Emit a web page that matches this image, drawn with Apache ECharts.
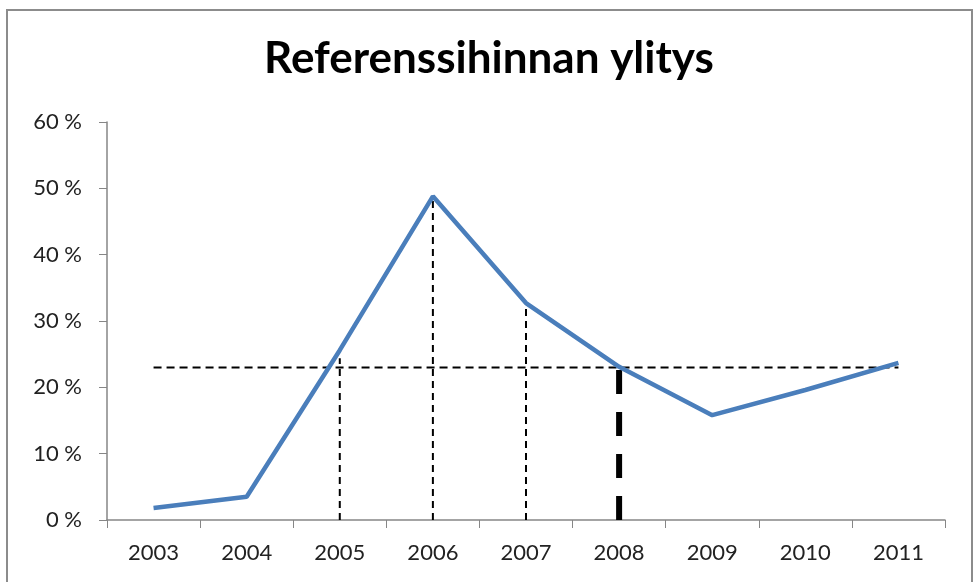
<!DOCTYPE html>
<html>
<head>
<meta charset="utf-8">
<script src="https://cdn.jsdelivr.net/npm/echarts@6/dist/echarts.min.js"></script>
<style>html,body{margin:0;padding:0;background:#fff}#c{width:978px;height:582px}</style>
</head>
<body>
<div id="c"></div>
<script>
const titleText = 'Referenssihinnan ylitys';
const years = ['2003','2004','2005','2006','2007','2008','2009','2010','2011'];
const values = [1.8, 3.5, 25.6, 48.8, 32.7, 23.1, 15.8, 19.6, 23.7];
const refLevel = 23;
const refStart = '2003';
const refEnd = '2011';
const guideYears = ['2005','2006','2007'];
const guideTops = [24.4, 48.8, 32.7];
const markYear = '2008';
const markTop = 23;
const yTicks = [0, 10, 20, 30, 40, 50, 60];

const chart = echarts.init(document.getElementById('c'), null, {renderer:'canvas'});
const font = 'Lato, "Open Sans", sans-serif';
const series = [];
series.push({
  type:'line', data:[[refStart, refLevel],[refEnd, refLevel]], symbol:'none', silent:true,
  lineStyle:{color:'#000', width:2, type:[8,5]}, z:2
});
guideYears.forEach((y,i)=>{
  series.push({
    type:'line', data:[[y,0],[y,guideTops[i]]], symbol:'none', silent:true,
    lineStyle:{color:'#000', width:2, type:[7,5]}, z:2
  });
});
series.push({
  type:'line', data:[[markYear,0],[markYear,markTop]], symbol:'none', silent:true,
  lineStyle:{color:'#000', width:6, type:[24,18]}, z:2
});
series.push({
  type:'line', data:values, symbol:'none', lineStyle:{color:'#4a7ebb', width:4.5}, z:5
});

chart.setOption({
  animation:false,
  title:{text:titleText, left:'center', top:32, textStyle:{fontFamily:font, fontWeight:'bold', fontSize:44, color:'#000'}},
  graphic:[{type:'rect', shape:{x:7, y:10, width:965, height:600}, style:{fill:null, stroke:'#8c8c8c', lineWidth:2}, silent:true}],
  grid:{left:107, right:33, top:122, bottom:62},
  xAxis:{type:'category', data:years, boundaryGap:true,
    axisLine:{lineStyle:{color:'#868686', width:1.5}},
    axisTick:{show:true, length:8, lineStyle:{color:'#868686'}},
    axisLabel:{fontFamily:font, fontSize:22, color:'#222', margin:22}
  },
  yAxis:{type:'value', min:0, max:60, interval:10,
    axisLine:{show:true, lineStyle:{color:'#868686', width:1.5}},
    axisTick:{show:true, length:8, lineStyle:{color:'#868686'}},
    splitLine:{show:false},
    axisLabel:{fontFamily:font, fontSize:22, color:'#222', margin:25, formatter:v=>yTicks.includes(v)? v+' %' : ''}
  },
  series:series
});
</script>
</body>
</html>
